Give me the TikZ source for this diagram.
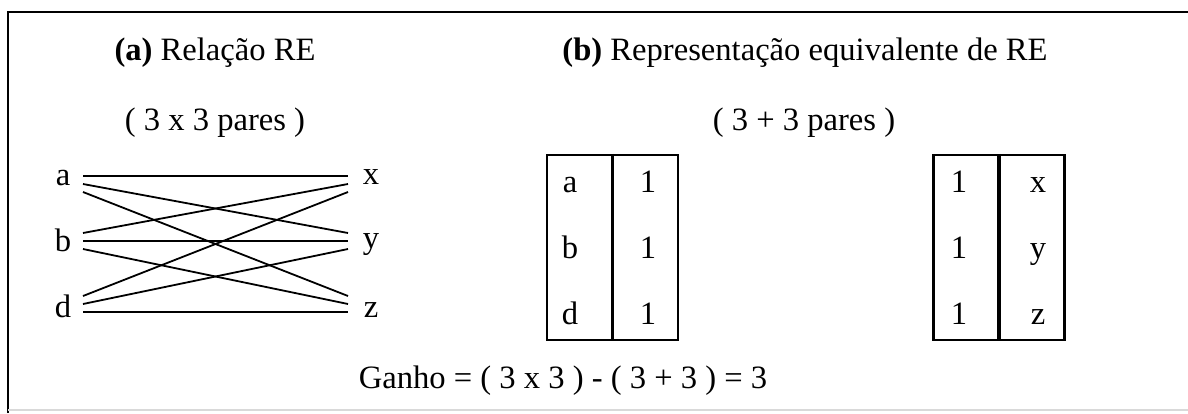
\documentclass[tikz,border=0pt]{standalone}
\usepackage{fontspec}
\setmainfont{Liberation Serif}
\usepackage{tikz}
\usetikzlibrary{positioning,calc}
\tikzset{
    caption/.style={
        inner sep=0pt, anchor=base,
        font=\fontsize{16.3}{19}\selectfont
    },
    tablebox/.style={
        rectangle, draw, line width=1.1pt,
        minimum width=65.5pt, minimum height=92.5pt, inner sep=0pt
    },
    divider/.style={line width=1.6pt},
    pairline/.style={line width=0.9pt},
    outline/.style={line width=1.2pt},
    faint/.style={line width=0.8pt, black!15}
}
\begin{document}
\begin{tikzpicture}[x=0.5pt,y=-0.5pt]
\useasboundingbox (0,0) rectangle (1188,413);

% Frame
\draw[outline] (8,413) -- (8,12) -- (1188,12);
\draw[faint] (8,410) -- (1188,410);

% Titles
\node[caption] (titleA) at (215,60) {\textbf{(a)} Relação RE};
\node[caption] (pairsA) at (215,130) {( 3 x 3 pares )};
\node[caption] (titleB) at (805,60) {\textbf{(b)} Representação equivalente de RE};
\node[caption] (pairsB) at (804,130) {( 3 + 3 pares )};

% Relation RE
\foreach \n/\yy [count=\i] in {a/185,b/251,d/317}
    \node[caption] (src\i) at (63,\yy) {\n};
\foreach \n/\yy [count=\i] in {x/184,y/248,z/317}
    \node[caption] (dst\i) at (371,\yy) {\n};
\foreach \i/\ci in {1/184,2/241,3/304}
  \foreach \j/\cj in {1/184,2/241,3/304} {
    \coordinate (s\i\j) at (83,{\ci+(\j-2)*8});
    \coordinate (t\i\j) at (348,{\cj+(\i-2)*8});
    \draw[pairline] (s\i\j) -- (t\i\j);
  }

% Equivalent representation
\node[tablebox] (keysL) at (612.5,247.5) {};
\draw[divider] (keysL.north) -- (keysL.south);
\node[tablebox] (keysR) at (999,247.5) {};
\draw[divider] (keysR.north) -- (keysR.south);
\foreach \n/\m/\yy [count=\i] in {a/x/192,b/y/258,d/z/324} {
    \node[caption] (keyA\i) at (570,\yy) {\n};
    \node[caption] (oneA\i) at (648,\yy) {1};
    \node[caption] (oneB\i) at (959,\yy) {1};
    \node[caption] (keyB\i) at (1038,\yy) {\m};
}

% Gain
\node[caption] (gain) at (563,388) {Ganho = ( 3 x 3 ) - ( 3 + 3 ) = 3};

\end{tikzpicture}
\end{document}
